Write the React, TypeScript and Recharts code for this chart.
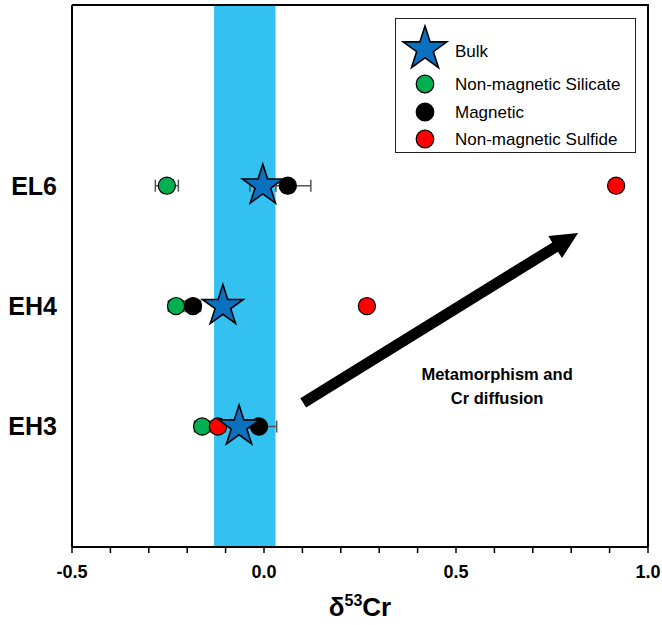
import React from 'react';
import {
    ScatterChart,
    Scatter,
    XAxis,
    YAxis,
    ReferenceArea,
    ReferenceLine,
    ReferenceDot,
    ErrorBar,
    Legend,
} from 'recharts';

const FONT = 'Arial, "Liberation Sans", Helvetica, sans-serif';

// samples on the y axis (bottom to top)
const samples = ['EH3', 'EH4', 'EL6'];
const sampleY = [1, 2, 3];

// δ53Cr values per fraction, in sample order
const bulk = [-0.065, -0.107, -0.003];
const bulkErr = [0.02, 0.02, 0.034];
const silicate = [-0.161, -0.229, -0.253];
const silicateErr = [0.02, 0.02, 0.03];
const magnetic = [-0.013, -0.185, 0.062];
const magneticErr = [0.046, 0.02, 0.06];
const sulfide = [-0.12, 0.268, 0.917];
const sulfideErr = [0.02, 0.015, 0.015];

const xTicks = [-0.5, -0.4, -0.3, -0.2, -0.1, 0, 0.1, 0.2, 0.3, 0.4, 0.5, 0.6, 0.7, 0.8, 0.9, 1.0];
const xLabels = ['-0.5', '', '', '', '', '0.0', '', '', '', '', '0.5', '', '', '', '', '1.0'];
const xDomain = [-0.5, 1.0];
const yDomain = [0, 4.5];

// corners for the top and right edges of the plot box
const frameCorners = [
    { x: xDomain[0], y: yDomain[1] },
    { x: xDomain[1], y: yDomain[1] },
    { x: xDomain[1], y: yDomain[0] },
];

// blue band
const band = [-0.13, 0.03];

// arrow and its note
const arrowFrom = { x: 0.102, y: 1.196 };
const arrowTo = { x: 0.818, y: 2.608 };
const noteLines = ['Metamorphism and', 'Cr diffusion'];
const notePos = { x: 0.607, y: 1.34 };

const COLORS = {
    bulk: '#0A70C0',
    silicate: '#00B050',
    magnetic: '#000000',
    sulfide: '#FF0000',
    band: '#33C1F1',
};

const toPoints = (xs: number[], errs: number[]) =>
    samples.map((s, i) => ({ sample: s, x: xs[i], y: sampleY[i], err: errs[i] }));

const starPath = (cx: number, cy: number, R: number) => {
    const r = R * 0.382;
    const pts: string[] = [];
    for (let i = 0; i < 10; i++) {
        const rad = i % 2 === 0 ? R : r;
        const a = -Math.PI / 2 + (i * Math.PI) / 5;
        pts.push(`${(cx + rad * Math.cos(a)).toFixed(2)},${(cy + rad * Math.sin(a)).toFixed(2)}`);
    }
    return `M${pts.join('L')}Z`;
};

const StarShape = (props: any) => (
    <path d={starPath(props.cx, props.cy, 21.5)} fill={COLORS.bulk} stroke="#000" strokeWidth={1.6} />
);

const dotShape = (fill: string) => (props: any) => (
    <circle cx={props.cx} cy={props.cy} r={8.6} fill={fill} stroke="#000" strokeWidth={1.2} />
);

const NoMarker = () => <g />;

const ArrowShape = (props: any) => {
    const { x1, y1, x2, y2 } = props;
    const dx = x2 - x1;
    const dy = y2 - y1;
    const len = Math.sqrt(dx * dx + dy * dy);
    const ux = dx / len;
    const uy = dy / len;
    const nx = -uy;
    const ny = ux;
    const headLen = 27;
    const headHalf = 13;
    const shaftHalf = 5.5;
    const bx = x2 - ux * headLen;
    const by = y2 - uy * headLen;
    const p = (x: number, y: number) => `${x.toFixed(1)},${y.toFixed(1)}`;
    const d = [
        p(x1 + nx * shaftHalf, y1 + ny * shaftHalf),
        p(bx + nx * shaftHalf, by + ny * shaftHalf),
        p(bx + nx * headHalf, by + ny * headHalf),
        p(x2, y2),
        p(bx - nx * headHalf, by - ny * headHalf),
        p(bx - nx * shaftHalf, by - ny * shaftHalf),
        p(x1 - nx * shaftHalf, y1 - ny * shaftHalf),
    ];
    return <polygon points={d.join(' ')} fill="#000" />;
};

const NoteShape = (props: any) => (
    <text x={props.cx} y={props.cy} textAnchor="middle" fontFamily={FONT} fontWeight="bold" fontSize={16.5} fill="#000">
        {noteLines.map((l, i) => (
            <tspan key={i} x={props.cx} dy={i === 0 ? -6 : 24}>
                {l}
            </tspan>
        ))}
    </text>
);

const legendItems = [
    { name: 'Bulk', color: COLORS.bulk, star: true },
    { name: 'Non-magnetic Silicate', color: COLORS.silicate, star: false },
    { name: 'Magnetic', color: COLORS.magnetic, star: false },
    { name: 'Non-magnetic Sulfide', color: COLORS.sulfide, star: false },
];

const LegendBox = () => {
    const rowsY = [30, 65, 93, 120];
    return (
        <div style={{ width: 241, height: 135, border: '1.5px solid #222', boxSizing: 'border-box', background: '#fff' }}>
            <svg width={238} height={132} style={{ display: 'block' }}>
                {legendItems.map((it, i) => (
                    <g key={it.name}>
                        {it.star ? (
                            <path d={starPath(29, rowsY[i], 23)} fill={it.color} stroke="#000" strokeWidth={1.6} />
                        ) : (
                            <circle cx={29} cy={rowsY[i]} r={8.8} fill={it.color} stroke="#000" strokeWidth={1.2} />
                        )}
                        <text x={59} y={rowsY[i] + (it.star ? 8 : 6)} fontFamily={FONT} fontSize={17} fill="#000">
                            {it.name}
                        </text>
                    </g>
                ))}
            </svg>
        </div>
    );
};

const AxisTitle = (props: any) => {
    const { x, y, width } = props.viewBox;
    return (
        <text x={x + width / 2} y={y + 69} textAnchor="middle" fontFamily={FONT} fontWeight="bold" fontSize={26} fill="#000">
            δ<tspan fontSize={16} dy={-10}>53</tspan>
            <tspan dy={10}>Cr</tspan>
        </text>
    );
};

export default function App() {
    return (
        <div style={{ position: 'absolute', left: 0, top: 0, background: '#fff' }}>
            <ScatterChart width={662} height={625} margin={{ top: 5, right: 14, left: 0, bottom: 0 }}>
                <XAxis
                    type="number"
                    dataKey="x"
                    domain={xDomain}
                    ticks={xTicks}
                    tickFormatter={(v: number) => xLabels[xTicks.indexOf(v)] ?? ''}
                    interval={0}
                    height={78}
                    tickSize={6}
                    tickMargin={12}
                    axisLine={{ stroke: '#000', strokeWidth: 2 }}
                    tickLine={{ stroke: '#000', strokeWidth: 1.5 }}
                    tick={{ fontSize: 18, fontWeight: 'bold', fill: '#000', fontFamily: FONT }}
                    label={{ content: AxisTitle }}
                />
                <YAxis
                    type="number"
                    dataKey="y"
                    domain={yDomain}
                    ticks={sampleY}
                    tickFormatter={(v: number) => samples[sampleY.indexOf(v)]}
                    width={72}
                    tickLine={false}
                    tickSize={0}
                    tickMargin={15}
                    axisLine={{ stroke: '#000', strokeWidth: 2 }}
                    tick={{ fontSize: 25, fontWeight: 'bold', fill: '#000', fontFamily: FONT }}
                />
                <ReferenceArea
                    x1={band[0]}
                    x2={band[1]}
                    y1={yDomain[0]}
                    y2={yDomain[1]}
                    fill={COLORS.band}
                    fillOpacity={1}
                    stroke="none"
                    ifOverflow="visible"
                />
                <ReferenceLine segment={[arrowFrom, arrowTo]} shape={ArrowShape} ifOverflow="visible" />
                <ReferenceDot x={notePos.x} y={notePos.y} r={0} shape={NoteShape} ifOverflow="visible" />
                <Legend
                    layout="vertical"
                    align="center"
                    verticalAlign="middle"
                    content={LegendBox}
                    wrapperStyle={{ left: 395, top: 18, width: 241, height: 135 }}
                />
                <Scatter
                    name="frame"
                    data={frameCorners}
                    line={{ stroke: '#000', strokeWidth: 2 }}
                    lineType="joint"
                    shape={NoMarker}
                    legendType="none"
                    isAnimationActive={false}
                />
                <Scatter name="Non-magnetic Silicate" data={toPoints(silicate, silicateErr)} shape={dotShape(COLORS.silicate)} isAnimationActive={false}>
                    <ErrorBar dataKey="err" direction="x" width={6} stroke="#555" strokeWidth={1.5} />
                </Scatter>
                <Scatter name="Magnetic" data={toPoints(magnetic, magneticErr)} shape={dotShape(COLORS.magnetic)} isAnimationActive={false}>
                    <ErrorBar dataKey="err" direction="x" width={6} stroke="#555" strokeWidth={1.5} />
                </Scatter>
                <Scatter name="Non-magnetic Sulfide" data={toPoints(sulfide, sulfideErr)} shape={dotShape(COLORS.sulfide)} isAnimationActive={false}>
                    <ErrorBar dataKey="err" direction="x" width={6} stroke="#555" strokeWidth={1.5} />
                </Scatter>
                <Scatter name="Bulk" data={toPoints(bulk, bulkErr)} shape={StarShape} isAnimationActive={false}>
                    <ErrorBar dataKey="err" direction="x" width={6} stroke="#555" strokeWidth={1.5} />
                </Scatter>
            </ScatterChart>
        </div>
    );
}
